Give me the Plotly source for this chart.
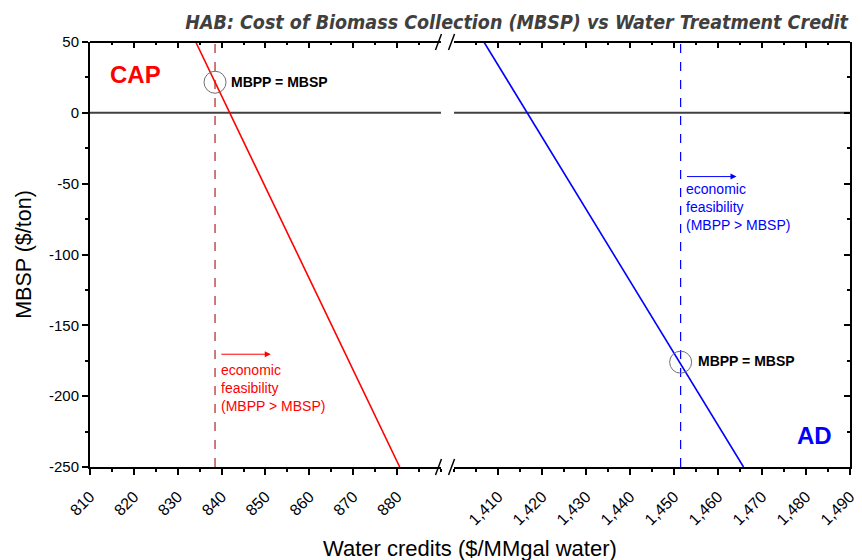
import plotly.graph_objects as go

# ---- data ----
cap_x = [834.1, 880.6]
cap_y = [50, -250]
ad_x = [1406.8, 1465.8]
ad_y = [50, -250]
cap_breakeven_x = 838.5
ad_breakeven_x = 1451.5
cap_breakeven_y = 21.6
ad_breakeven_y = -176.0

y_ticks = [50, 0, -50, -100, -150, -200, -250]
y_ticklabels = ["50", "0", "-50", "-100", "-150", "-200", "-250"]
x1_ticks = [810, 820, 830, 840, 850, 860, 870, 880]
x1_ticklabels = ["810", "820", "830", "840", "850", "860", "870", "880"]
x2_ticks = [1410, 1420, 1430, 1440, 1450, 1460, 1470, 1480, 1490]
x2_ticklabels = ["1,410", "1,420", "1,430", "1,440", "1,450", "1,460", "1,470", "1,480", "1,490"]
x1_range = [810, 890]
x2_range = [1400, 1490]
y_range = [-250, 50]

RED = "#FF0000"
BLUE = "#0000FF"
FONT = "Liberation Sans, Arial, sans-serif"

fig = go.Figure()

# zero lines (broken)
fig.add_trace(go.Scatter(x=x1_range, y=[0, 0], mode="lines", line=dict(color="#404040", width=2),
                         xaxis="x", yaxis="y", hoverinfo="skip", showlegend=False))
fig.add_trace(go.Scatter(x=x2_range, y=[0, 0], mode="lines", line=dict(color="#404040", width=2),
                         xaxis="x2", yaxis="y", hoverinfo="skip", showlegend=False))

# dashed break-even verticals
fig.add_trace(go.Scatter(x=[cap_breakeven_x, cap_breakeven_x], y=y_range, mode="lines",
                         line=dict(color="#B22222", width=1.2, dash="dash"),
                         xaxis="x", yaxis="y", showlegend=False))
fig.add_trace(go.Scatter(x=[ad_breakeven_x, ad_breakeven_x], y=y_range, mode="lines",
                         line=dict(color=BLUE, width=1.2, dash="dash"),
                         xaxis="x2", yaxis="y", showlegend=False))

# main lines
fig.add_trace(go.Scatter(x=cap_x, y=cap_y, mode="lines", line=dict(color=RED, width=1.6),
                         xaxis="x", yaxis="y", name="CAP", showlegend=False))
fig.add_trace(go.Scatter(x=ad_x, y=ad_y, mode="lines", line=dict(color=BLUE, width=1.6),
                         xaxis="x2", yaxis="y", name="AD", showlegend=False))

# circles at break-even points
fig.add_trace(go.Scatter(x=[cap_breakeven_x], y=[cap_breakeven_y], mode="markers",
                         marker=dict(symbol="circle-open", size=22, color="#707070", line=dict(width=1)),
                         xaxis="x", yaxis="y", showlegend=False))
fig.add_trace(go.Scatter(x=[ad_breakeven_x], y=[ad_breakeven_y], mode="markers",
                         marker=dict(symbol="circle-open", size=22, color="#707070", line=dict(width=1)),
                         xaxis="x2", yaxis="y", showlegend=False))

# invisible traces to carry the mirror axes
fig.add_trace(go.Scatter(x=x1_range, y=y_range, mode="markers", marker=dict(opacity=0),
                         xaxis="x3", yaxis="y", hoverinfo="skip", showlegend=False))
fig.add_trace(go.Scatter(x=x2_range, y=y_range, mode="markers", marker=dict(opacity=0),
                         xaxis="x4", yaxis="y2", hoverinfo="skip", showlegend=False))

L_DOM = [0, 0.4618]
R_DOM = [0.479, 1]

tickfont_x = dict(family=FONT, size=16, color="#000000")
tickfont_y = dict(family=FONT, size=15, color="#000000")
common_x = dict(showline=True, linecolor="black", linewidth=2, ticks="outside", ticklen=6,
                tickwidth=1.5, tickcolor="black", tickangle=-45, tickfont=tickfont_x,
                ticklabelstandoff=6, showgrid=False, zeroline=False)
mirror_x = dict(showline=False, ticks="inside", ticklen=6, tickwidth=1.5, tickcolor="black",
                showticklabels=False, showgrid=False, zeroline=False, side="top")

fig.update_layout(
    width=862, height=560,
    margin=dict(l=82, r=20, t=34, b=101),
    paper_bgcolor="white", plot_bgcolor="white",
    showlegend=False,
    title=dict(text="<b><i>HAB: Cost of Biomass Collection (MBSP) vs Water Treatment Credit</i></b>",
               x=840 / 862, xanchor="right", xref="container", y=0.987, yanchor="top",
               font=dict(family="Liberation Sans Narrow, DejaVu Sans Condensed, Roboto, sans-serif",
                         size=19.5, color="#404040")),
    xaxis=dict(domain=L_DOM, range=x1_range, tickvals=x1_ticks, ticktext=x1_ticklabels,
               minor=dict(ticks="outside", dtick=5, tick0=805, ticklen=3, tickwidth=1.5, tickcolor="black"),
               anchor="y", **common_x),
    xaxis2=dict(domain=R_DOM, range=x2_range, tickvals=x2_ticks, ticktext=x2_ticklabels,
                minor=dict(ticks="outside", dtick=5, tick0=1405, ticklen=3, tickwidth=1.5, tickcolor="black"),
                anchor="y", **common_x),
    xaxis3=dict(domain=L_DOM, range=x1_range, tickvals=x1_ticks, overlaying="x", anchor="y",
                minor=dict(ticks="inside", dtick=5, tick0=805, ticklen=3, tickwidth=1.5, tickcolor="black"),
                **mirror_x),
    xaxis4=dict(domain=R_DOM, range=x2_range, tickvals=x2_ticks, overlaying="x2", anchor="y2",
                minor=dict(ticks="inside", dtick=5, tick0=1405, ticklen=3, tickwidth=1.5, tickcolor="black"),
                **mirror_x),
    yaxis=dict(range=y_range, tickvals=y_ticks, ticktext=y_ticklabels, showline=True, linecolor="black",
               linewidth=2, ticks="outside", ticklen=6, tickwidth=1.5, tickcolor="black",
               minor=dict(ticks="outside", dtick=25, tick0=25, ticklen=3, tickwidth=1.5, tickcolor="black"),
               tickfont=tickfont_y, showgrid=False, zeroline=False, anchor="x",
               title=dict(text="MBSP ($/ton)", font=dict(family=FONT, size=21.5, color="#000000"), standoff=11)),
    yaxis2=dict(range=y_range, tickvals=y_ticks, overlaying="y", side="right", anchor="x4",
                showline=True, linecolor="black", linewidth=2, ticks="inside", ticklen=6, tickwidth=1.5,
                tickcolor="black",
                minor=dict(ticks="inside", dtick=25, tick0=25, ticklen=3, tickwidth=1.5, tickcolor="black"),
                showticklabels=False, showgrid=False, zeroline=False),
)

# top axis lines (broken)
for x0, x1 in [(L_DOM[0], L_DOM[1]), (R_DOM[0], R_DOM[1])]:
    fig.add_shape(type="line", xref="paper", yref="paper", x0=x0, x1=x1, y0=1, y1=1,
                  line=dict(color="black", width=2))

# break marks (slashes) at top and bottom
dy = 8 / 425
for yc in [0, 1]:
    for xc in [L_DOM[1] - 2.5 / 760, R_DOM[0] - 2.5 / 760]:
        fig.add_shape(type="line", xref="paper", yref="paper",
                      x0=xc - 3 / 760, y0=yc - dy, x1=xc + 3 / 760, y1=yc + dy,
                      line=dict(color="black", width=1.5))

# x-axis title spanning both panels
fig.add_annotation(text="Water credits ($/MMgal water)", xref="paper", yref="paper", x=0.5, y=0,
                   yshift=-81, xanchor="center", yanchor="middle", showarrow=False,
                   font=dict(family=FONT, size=22, color="#000000"))

# labels
fig.add_annotation(text="<b>CAP</b>", x=814.0, y=26.8, xref="x", yref="y", xanchor="left",
                   yanchor="middle", showarrow=False, font=dict(family=FONT, size=24, color=RED))
fig.add_annotation(text="<b>AD</b>", x=1486.3, y=-228, xref="x2", yref="y", xanchor="right",
                   yanchor="middle", showarrow=False, font=dict(family=FONT, size=24, color=BLUE))

fig.add_annotation(text="<b>MBPP = MBSP</b>", x=841.6, y=21.8, xref="x", yref="y", xanchor="left",
                   yanchor="middle", showarrow=False, font=dict(family=FONT, size=14, color="black"))
fig.add_annotation(text="<b>MBPP = MBSP</b>", x=1455.0, y=-175.5, xref="x2", yref="y", xanchor="left",
                   yanchor="middle", showarrow=False, font=dict(family=FONT, size=14, color="black"))

# economic feasibility arrows + texts
fig.add_annotation(x=851.2, y=-170.4, ax=839.6, ay=-170.4, xref="x", yref="y", axref="x", ayref="y",
                   text="", showarrow=True, arrowhead=2, arrowsize=1.2, arrowwidth=1, arrowcolor=RED)
fig.add_annotation(x=1464.2, y=-45, ax=1452.6, ay=-45, xref="x2", yref="y", axref="x2", ayref="y",
                   text="", showarrow=True, arrowhead=2, arrowsize=1.2, arrowwidth=1, arrowcolor=BLUE)

fig.add_annotation(text="economic<br>feasibility<br>(MBPP > MBSP)", x=839.3, y=-194.5, xref="x", yref="y",
                   xanchor="left", yanchor="middle", align="left", showarrow=False,
                   font=dict(family=FONT, size=14, color=RED))
fig.add_annotation(text="economic<br>feasibility<br>(MBPP > MBSP)", x=1452.3, y=-66.5, xref="x2", yref="y",
                   xanchor="left", yanchor="middle", align="left", showarrow=False,
                   font=dict(family=FONT, size=14, color=BLUE))

fig.write_html("out.html")
